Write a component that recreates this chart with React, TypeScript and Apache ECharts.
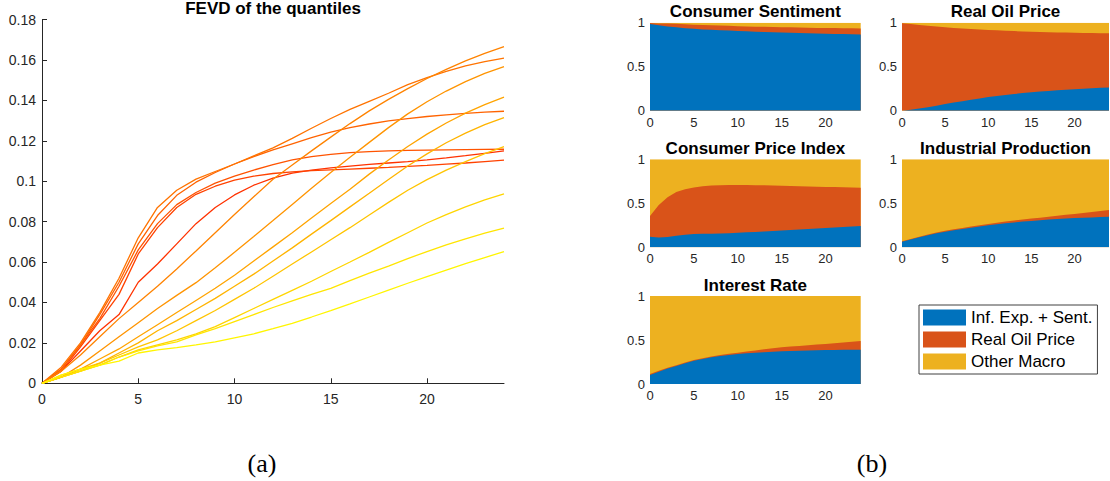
import { useEffect, useRef } from "react";
import * as echarts from "echarts";

const FONT = "'Liberation Sans', Arial, Helvetica, sans-serif";
const SERIF = "'Liberation Serif', 'DejaVu Serif', serif";
const INK = "#262626";

// Forecast horizons (months)
const horizons = [0, 1, 2, 3, 4, 5, 6, 7, 8, 9, 10, 11, 12, 13, 14, 15, 16, 17, 18, 19, 20, 21, 22, 23, 24];

// FEVD of the quantiles, one curve per quantile (red = lowest, yellow = highest)
const fevdQ01 = [0, 0.006, 0.016, 0.026, 0.034, 0.05, 0.059, 0.069, 0.079, 0.087, 0.0932, 0.098, 0.1015, 0.104, 0.1055, 0.1066, 0.1075, 0.1083, 0.109, 0.1097, 0.1105, 0.1115, 0.1126, 0.1138, 0.115];
const fevdQ02 = [0, 0.006, 0.018, 0.031, 0.044, 0.064, 0.077, 0.087, 0.0935, 0.0975, 0.1005, 0.1025, 0.1038, 0.1046, 0.1052, 0.1056, 0.106, 0.1064, 0.1068, 0.1073, 0.1078, 0.1084, 0.109, 0.1097, 0.1104];
const fevdQ03 = [0, 0.007, 0.019, 0.032, 0.048, 0.066, 0.079, 0.0884, 0.0944, 0.099, 0.1025, 0.1055, 0.1082, 0.1105, 0.1122, 0.1133, 0.1141, 0.1146, 0.115, 0.1152, 0.1154, 0.1155, 0.1156, 0.1157, 0.1158];
const fevdQ04 = [0, 0.007, 0.019, 0.034, 0.05, 0.069, 0.083, 0.093, 0.0995, 0.1043, 0.1085, 0.1122, 0.1155, 0.1185, 0.1215, 0.1243, 0.1265, 0.1283, 0.1298, 0.131, 0.132, 0.1328, 0.1336, 0.1342, 0.1346];
const fevdQ05 = [0, 0.008, 0.02, 0.035, 0.052, 0.072, 0.087, 0.0955, 0.101, 0.1048, 0.1085, 0.1125, 0.1165, 0.1212, 0.1262, 0.131, 0.1355, 0.1395, 0.1435, 0.1478, 0.1512, 0.1543, 0.157, 0.1592, 0.1609];
const fevdQ06 = [0, 0.006, 0.014, 0.023, 0.032, 0.04, 0.048, 0.0566, 0.0655, 0.0745, 0.0835, 0.0923, 0.101, 0.108, 0.115, 0.1218, 0.1285, 0.1348, 0.1405, 0.1458, 0.1508, 0.1553, 0.1595, 0.1632, 0.1666];
const fevdQ07 = [0, 0.003, 0.009, 0.016, 0.023, 0.03, 0.037, 0.0435, 0.0498, 0.0572, 0.0648, 0.0726, 0.0805, 0.0885, 0.0965, 0.1043, 0.1118, 0.1192, 0.1265, 0.1333, 0.1393, 0.1446, 0.1493, 0.1533, 0.1567];
const fevdQ08 = [0, 0.003, 0.007, 0.012, 0.017, 0.023, 0.029, 0.035, 0.041, 0.047, 0.0535, 0.0605, 0.0675, 0.0745, 0.0818, 0.089, 0.096, 0.1035, 0.1105, 0.1172, 0.1233, 0.1288, 0.1337, 0.1379, 0.1416];
const fevdQ09 = [0, 0.003, 0.006, 0.01, 0.015, 0.02, 0.026, 0.031, 0.0365, 0.042, 0.048, 0.054, 0.0605, 0.067, 0.0738, 0.0805, 0.0873, 0.094, 0.1008, 0.1075, 0.1135, 0.119, 0.1238, 0.128, 0.1315];
const fevdQ10 = [0, 0.004, 0.007, 0.01, 0.014, 0.018, 0.0215, 0.026, 0.031, 0.036, 0.0415, 0.047, 0.053, 0.059, 0.065, 0.071, 0.077, 0.0833, 0.0895, 0.0955, 0.1008, 0.1055, 0.1097, 0.1136, 0.1171];
const fevdQ11 = [0, 0.003, 0.006, 0.009, 0.013, 0.0165, 0.019, 0.0215, 0.0245, 0.028, 0.0325, 0.037, 0.0415, 0.046, 0.0505, 0.0553, 0.06, 0.0648, 0.0697, 0.0745, 0.0793, 0.0835, 0.0873, 0.0907, 0.0937];
const fevdQ12 = [0, 0.003, 0.006, 0.009, 0.013, 0.016, 0.0185, 0.0205, 0.024, 0.027, 0.0305, 0.034, 0.0375, 0.0408, 0.044, 0.047, 0.0508, 0.0545, 0.058, 0.0617, 0.0652, 0.0685, 0.0715, 0.0743, 0.0768];
const fevdQ13 = [0, 0.004, 0.007, 0.009, 0.011, 0.015, 0.0165, 0.0177, 0.019, 0.0205, 0.0225, 0.0245, 0.027, 0.0297, 0.0328, 0.036, 0.0393, 0.0427, 0.0461, 0.0495, 0.0528, 0.056, 0.0592, 0.0622, 0.0652];

const quantileCurves = [fevdQ01, fevdQ02, fevdQ03, fevdQ04, fevdQ05, fevdQ06, fevdQ07, fevdQ08, fevdQ09, fevdQ10, fevdQ11, fevdQ12, fevdQ13];
// autumn-style palette, red to yellow
const quantileColors = [
  "rgb(255,50,0)", "rgb(255,66,0)", "rgb(255,83,0)", "rgb(255,99,0)", "rgb(255,115,0)",
  "rgb(255,131,0)", "rgb(255,148,0)", "rgb(255,164,0)", "rgb(255,180,0)", "rgb(255,196,0)",
  "rgb(255,213,0)", "rgb(255,229,0)", "rgb(255,245,0)",
];

const yTicksLeft = [0, 0.02, 0.04, 0.06, 0.08, 0.1, 0.12, 0.14, 0.16, 0.18];
const xTicks = [0, 5, 10, 15, 20];

// Variance decomposition shares by variable
const sourceNames = ["Inf. Exp. + Sent.", "Real Oil Price", "Other Macro"];
const sourceColors = ["#0072BD", "#D95319", "#EDB120"];

const csExpSent = [0.985, 0.97, 0.958, 0.947, 0.938, 0.93, 0.924, 0.919, 0.914, 0.91, 0.906, 0.902, 0.898, 0.895, 0.892, 0.889, 0.886, 0.883, 0.88, 0.877, 0.875, 0.873, 0.871, 0.869, 0.867];
const csOil = [0.012, 0.022, 0.032, 0.04, 0.045, 0.048, 0.05, 0.052, 0.053, 0.054, 0.055, 0.056, 0.057, 0.058, 0.059, 0.06, 0.061, 0.062, 0.063, 0.064, 0.065, 0.066, 0.066, 0.067, 0.068];
const csOther = [0.003, 0.008, 0.01, 0.013, 0.017, 0.022, 0.026, 0.029, 0.033, 0.036, 0.039, 0.042, 0.045, 0.047, 0.049, 0.051, 0.053, 0.055, 0.057, 0.059, 0.06, 0.061, 0.063, 0.064, 0.065];

const ropExpSent = [0, 0.012, 0.025, 0.04, 0.057, 0.075, 0.092, 0.108, 0.124, 0.14, 0.155, 0.167, 0.178, 0.189, 0.2, 0.21, 0.218, 0.225, 0.232, 0.238, 0.244, 0.25, 0.255, 0.26, 0.265];
const ropOil = [0.995, 0.973, 0.95, 0.926, 0.9, 0.873, 0.848, 0.825, 0.803, 0.782, 0.762, 0.746, 0.731, 0.716, 0.701, 0.688, 0.677, 0.667, 0.658, 0.65, 0.642, 0.634, 0.627, 0.62, 0.614];
const ropOther = [0.005, 0.015, 0.025, 0.034, 0.043, 0.052, 0.06, 0.067, 0.073, 0.078, 0.083, 0.087, 0.091, 0.095, 0.099, 0.102, 0.105, 0.108, 0.11, 0.112, 0.114, 0.116, 0.118, 0.12, 0.121];

const cpiExpSent = [0.121, 0.112, 0.118, 0.13, 0.142, 0.15, 0.153, 0.155, 0.157, 0.16, 0.165, 0.17, 0.175, 0.18, 0.186, 0.192, 0.197, 0.202, 0.207, 0.213, 0.219, 0.225, 0.231, 0.237, 0.243];
const cpiOil = [0.235, 0.368, 0.452, 0.497, 0.518, 0.53, 0.541, 0.547, 0.549, 0.548, 0.543, 0.537, 0.531, 0.524, 0.516, 0.507, 0.5, 0.493, 0.485, 0.476, 0.467, 0.459, 0.451, 0.443, 0.435];
const cpiOther = [0.644, 0.52, 0.43, 0.373, 0.34, 0.32, 0.306, 0.298, 0.294, 0.292, 0.292, 0.293, 0.294, 0.296, 0.298, 0.301, 0.303, 0.305, 0.308, 0.311, 0.314, 0.316, 0.318, 0.32, 0.322];

const ipExpSent = [0.064, 0.09, 0.115, 0.138, 0.16, 0.178, 0.194, 0.209, 0.223, 0.237, 0.25, 0.262, 0.273, 0.283, 0.292, 0.3, 0.308, 0.315, 0.321, 0.327, 0.332, 0.336, 0.34, 0.344, 0.348];
const ipOil = [0.004, 0.005, 0.006, 0.007, 0.008, 0.009, 0.01, 0.011, 0.012, 0.014, 0.016, 0.018, 0.02, 0.022, 0.024, 0.026, 0.029, 0.033, 0.037, 0.042, 0.047, 0.054, 0.061, 0.068, 0.076];
const ipOther = [0.932, 0.905, 0.879, 0.855, 0.832, 0.813, 0.796, 0.78, 0.765, 0.749, 0.734, 0.72, 0.707, 0.695, 0.684, 0.674, 0.663, 0.652, 0.642, 0.631, 0.621, 0.61, 0.599, 0.588, 0.576];

const irExpSent = [0.102, 0.14, 0.175, 0.205, 0.236, 0.265, 0.285, 0.303, 0.318, 0.33, 0.341, 0.349, 0.355, 0.361, 0.366, 0.371, 0.375, 0.378, 0.381, 0.384, 0.386, 0.387, 0.388, 0.389, 0.39];
const irOil = [0.012, 0.01, 0.009, 0.008, 0.008, 0.008, 0.009, 0.01, 0.011, 0.013, 0.015, 0.02, 0.026, 0.033, 0.04, 0.046, 0.051, 0.055, 0.059, 0.064, 0.069, 0.076, 0.083, 0.091, 0.099];
const irOther = [0.886, 0.85, 0.816, 0.787, 0.756, 0.727, 0.706, 0.687, 0.671, 0.657, 0.644, 0.631, 0.619, 0.606, 0.594, 0.583, 0.574, 0.567, 0.56, 0.552, 0.545, 0.537, 0.529, 0.52, 0.511];

const panels = [
  { title: "Consumer Sentiment", parts: [csExpSent, csOil, csOther], left: 650, top: 22.7 },
  { title: "Real Oil Price", parts: [ropExpSent, ropOil, ropOther], left: 902, top: 22.7 },
  { title: "Consumer Price Index", parts: [cpiExpSent, cpiOil, cpiOther], left: 650, top: 159.3 },
  { title: "Industrial Production", parts: [ipExpSent, ipOil, ipOther], left: 902, top: 159.3 },
  { title: "Interest Rate", parts: [irExpSent, irOil, irOther], left: 650, top: 296 },
];
const yTicksPanel = [0, 0.5, 1];

function buildOption() {
  const grids: any[] = [{ left: 42, top: 19.5, width: 462, height: 363.8 }];
  const xAxes: any[] = [
    {
      type: "value", gridIndex: 0, min: 0, max: 24,
      axisLine: { show: true, lineStyle: { color: INK, width: 1 } },
      axisTick: { show: true, inside: true, length: 5, lineStyle: { color: INK }, customValues: xTicks },
      axisLabel: { color: INK, fontSize: 14, fontFamily: FONT, margin: 9, customValues: xTicks },
      splitLine: { show: false },
    },
  ];
  const yAxes: any[] = [
    {
      type: "value", gridIndex: 0, min: 0, max: 0.18,
      axisLine: { show: true, lineStyle: { color: INK, width: 1 } },
      axisTick: { show: true, inside: true, length: 5, lineStyle: { color: INK }, customValues: yTicksLeft },
      axisLabel: { color: INK, fontSize: 14, fontFamily: FONT, margin: 6, customValues: yTicksLeft },
      splitLine: { show: false },
    },
  ];
  const series: any[] = quantileCurves.map((vals, k) => ({
    type: "line", xAxisIndex: 0, yAxisIndex: 0,
    data: horizons.map((h, i) => [h, vals[i]]),
    showSymbol: false, symbol: "none", silent: true,
    color: quantileColors[k],
    lineStyle: { width: 1.3, color: quantileColors[k] },
  }));
  const graphics: any[] = [
    {
      type: "text", x: 273, y: 8.5,
      style: { text: "FEVD of the quantiles", font: `bold 17px ${FONT}`, fill: "#000", align: "center", verticalAlign: "middle" },
    },
    {
      type: "text", x: 262, y: 463,
      style: { text: "(a)", font: `26px ${SERIF}`, fill: "#000", align: "center", verticalAlign: "middle" },
    },
    {
      type: "text", x: 872, y: 463,
      style: { text: "(b)", font: `26px ${SERIF}`, fill: "#000", align: "center", verticalAlign: "middle" },
    },
  ];

  panels.forEach((p, idx) => {
    const g = idx + 1;
    const width = p.left === 650 ? 210.7 : 207;
    grids.push({ left: p.left, top: p.top, width, height: 88 });
    xAxes.push({
      type: "value", gridIndex: g, min: 0, max: 24,
      axisLine: { show: false }, axisTick: { show: false },
      axisLabel: { color: INK, fontSize: 13, fontFamily: FONT, margin: 5, customValues: xTicks },
      splitLine: { show: false },
    });
    yAxes.push({
      type: "value", gridIndex: g, min: 0, max: 1,
      axisLine: { show: false }, axisTick: { show: false },
      axisLabel: { color: INK, fontSize: 13, fontFamily: FONT, margin: 5, customValues: yTicksPanel },
      splitLine: { show: false },
    });
    const [a, b, c] = p.parts;
    const layers = [
      horizons.map((h, i) => [h, a[i] + b[i] + c[i]]),
      horizons.map((h, i) => [h, a[i] + b[i]]),
      horizons.map((h, i) => [h, a[i]]),
    ];
    const order = [2, 1, 0];
    layers.forEach((data, li) => {
      const src = order[li];
      series.push({
        type: "line", name: sourceNames[src], xAxisIndex: g, yAxisIndex: g,
        data, showSymbol: false, symbol: "none", silent: true,
        color: sourceColors[src],
        itemStyle: { color: sourceColors[src] },
        lineStyle: { width: 0, opacity: 0 },
        areaStyle: { color: sourceColors[src], opacity: 1 },
      });
    });
    graphics.push({
      type: "text", x: p.left + width / 2, y: p.top - 11,
      style: { text: p.title, font: `bold 17px ${FONT}`, fill: "#000", align: "center", verticalAlign: "middle" },
    });
  });

  return {
    animation: false,
    backgroundColor: "#fff",
    grid: grids,
    xAxis: xAxes,
    yAxis: yAxes,
    series,
    legend: {
      data: sourceNames.map((n) => ({ name: n, icon: "rect" })),
      orient: "vertical", left: 919, top: 305,
      itemWidth: 43, itemHeight: 16, itemGap: 5,
      padding: [4, 5, 4, 4],
      borderColor: "#404040", borderWidth: 1, backgroundColor: "#fff",
      selectedMode: false,
      textStyle: { fontSize: 17, color: "#000", fontFamily: FONT },
    },
    graphic: graphics,
  };
}

export default function App() {
  const ref = useRef<HTMLDivElement>(null);
  useEffect(() => {
    if (!ref.current) return;
    const chart = echarts.init(ref.current, null, { renderer: "svg" });
    chart.setOption(buildOption() as any);
    return () => chart.dispose();
  }, []);
  return (
    <div
      ref={ref}
      style={{ position: "fixed", left: 0, top: 0, width: 1110, height: 481, background: "#fff" }}
    />
  );
}
